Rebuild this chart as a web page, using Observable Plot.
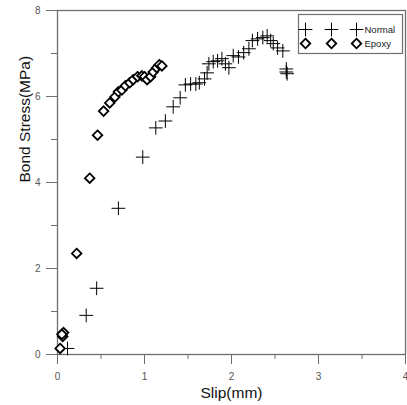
<!DOCTYPE html>
<html>
<head>
<meta charset="utf-8">
<script src="https://cdn.jsdelivr.net/npm/d3@7"></script>
<script src="https://cdn.jsdelivr.net/npm/@observablehq/plot@0.6"></script>
<style>
  html, body { margin: 0; padding: 0; background: #fff; }
  svg { font-family: "Liberation Sans", Arial, sans-serif; }
</style>
</head>
<body>
<div id="chart"></div>
<script>
// ---- data ----
const normalSlip   = [0.115, 0.33, 0.45, 0.70, 0.98, 1.13, 1.24, 1.33, 1.41, 1.47, 1.53, 1.59, 1.63, 1.69, 1.72, 1.74, 1.79, 1.84, 1.89, 1.93, 1.97, 2.02, 2.08, 2.14, 2.20, 2.24, 2.30, 2.36, 2.41, 2.45, 2.48, 2.53, 2.59, 2.63, 2.63, 2.64];
const normalStress = [0.14, 0.91, 1.54, 3.40, 4.59, 5.27, 5.43, 5.76, 5.97, 6.27, 6.29, 6.29, 6.32, 6.41, 6.55, 6.76, 6.81, 6.83, 6.88, 6.76, 6.67, 6.95, 6.92, 7.02, 7.11, 7.30, 7.34, 7.37, 7.41, 7.30, 7.23, 7.13, 7.06, 6.64, 6.57, 6.53];
const epoxySlip    = [0.03, 0.06, 0.07, 0.05, 0.22, 0.37, 0.46, 0.53, 0.60, 0.66, 0.70, 0.74, 0.78, 0.83, 0.87, 0.92, 0.97, 1.00, 1.03, 1.07, 1.10, 1.14, 1.17, 1.20];
const epoxyStress  = [0.14, 0.42, 0.51, 0.47, 2.35, 4.10, 5.10, 5.66, 5.85, 5.99, 6.11, 6.15, 6.25, 6.32, 6.39, 6.46, 6.48, 6.46, 6.39, 6.46, 6.57, 6.67, 6.74, 6.71];
const seriesNames  = ["Normal", "Epoxy"];
const seriesSymbols = ["plus", "diamond2"];
const xTicks = [0, 1, 2, 3, 4];
const xMinorTicks = [0.5, 1.5, 2.5, 3.5];
const yTicks = [0, 2, 4, 6, 8];
const yMinorTicks = [1, 3, 5, 7];
const xLabel = "Slip(mm)";
const yLabel = "Bond Stress(MPa)";

const normal = normalSlip.map((s, i) => ({slip: s, stress: normalStress[i]}));
const epoxy = epoxySlip.map((s, i) => ({slip: s, stress: epoxyStress[i]}));

const axisColor = "#6f6f6f";
const styleFor = (sym) => sym === "plus"
  ? {symbol: "plus", r: 4.5, stroke: "#000", strokeWidth: 1, fill: "none"}
  : {symbol: "diamond2", r: 4.3, stroke: "#000", strokeWidth: 1.8, fill: "#fff"};

// legend marks (anchored to the top-right of the frame)
const legendMarks = [];
legendMarks.push(Plot.frame({stroke: axisColor, strokeWidth: 1.2, insetLeft: 241, insetRight: 3, insetTop: 4, insetBottom: 301}));
seriesNames.forEach((name, i) => {
  const dy = 19 + i * 14;
  [-100, -74, -49].forEach(dx => {
    legendMarks.push(Plot.dot([name], {frameAnchor: "top-right", dx, dy, ...styleFor(seriesSymbols[i])}));
  });
  legendMarks.push(Plot.text([name], {frameAnchor: "top-right", lineAnchor: "middle", dx: -41, dy, text: d => d, textAnchor: "start", fontSize: 9.5, fill: "#222"}));
});

const chart = Plot.plot({
  width: 407,
  height: 405,
  marginLeft: 57,
  marginRight: 2,
  marginTop: 10,
  marginBottom: 51,
  style: {fontFamily: "Liberation Sans, Arial, sans-serif", background: "#fff"},
  x: {domain: [0, 4]},
  y: {domain: [0, 8]},
  marks: [
    Plot.frame({stroke: axisColor, strokeWidth: 1.3}),
    Plot.axisX({ticks: xTicks, tickFormat: d3.format("d"), tickSize: 10, tickPadding: 8, fontSize: 10, stroke: axisColor, color: "#555", label: null}),
    Plot.axisX({ticks: xMinorTicks, tickSize: 5, tickFormat: () => "", stroke: axisColor, label: null}),
    Plot.axisY({ticks: yTicks, tickFormat: d3.format("d"), tickSize: 11, tickPadding: 6, fontSize: 10, stroke: axisColor, color: "#555", label: null}),
    Plot.axisY({ticks: yMinorTicks, tickSize: 6, tickFormat: () => "", stroke: axisColor, label: null}),
    Plot.text([xLabel], {frameAnchor: "bottom", dy: 43, text: d => d, fontSize: 15.5, fill: "#111"}),
    Plot.text([yLabel], {frameAnchor: "left", dx: -32, rotate: -90, text: d => d, fontSize: 15.5, fill: "#111"}),
    Plot.dot(normal, {x: "slip", y: "stress", ...styleFor("plus")}),
    Plot.dot(epoxy, {x: "slip", y: "stress", ...styleFor("diamond2")}),
    ...legendMarks
  ]
});
document.getElementById("chart").appendChild(chart);
</script>
</body>
</html>
